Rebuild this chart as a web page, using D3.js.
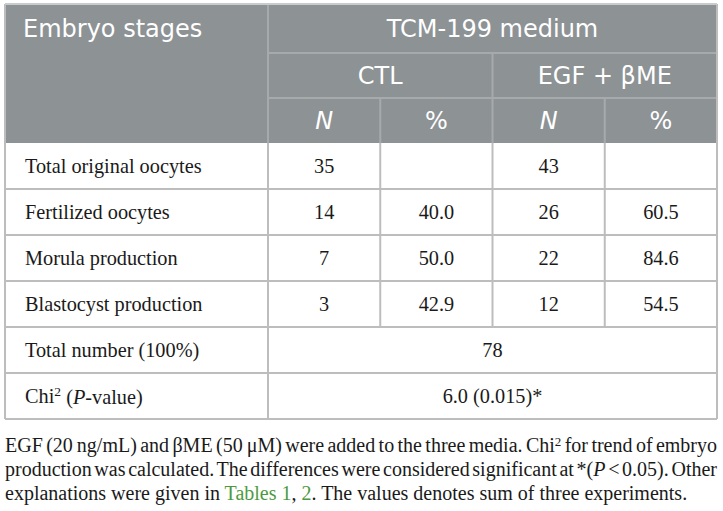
<!DOCTYPE html>
<html>
<head>
<meta charset="utf-8">
<script src="https://cdn.jsdelivr.net/npm/d3@7"></script>
<style>
  html, body { margin: 0; padding: 0; background: #fff; }
  svg { display: block; }
</style>
</head>
<body>
<svg id="chart" width="723" height="511"></svg>
<script>
// ---- data ----
const stages = ["Total original oocytes", "Fertilized oocytes", "Morula production", "Blastocyst production"];
const ctlN = ["35", "14", "7", "3"];
const ctlPct = ["", "40.0", "50.0", "42.9"];
const egfN = ["43", "26", "22", "12"];
const egfPct = ["", "60.5", "84.6", "54.5"];
const mediumLabel = "TCM-199 medium";
const groups = ["CTL", "EGF + βME"];
const subHeaders = ["N", "%"];
const stubHeader = "Embryo stages";
const totalLabel = "Total number (100%)";
const totalValue = "78";
const chiValue = "6.0 (0.015)*";

// ---- layout ----
const svg = d3.select("#chart");
const L = 5, R = 717, STUB = 268, TOP = 4, HEAD = 143, BOTTOM = 419;
const headRows = [TOP, 53, 98, HEAD];
const headerFont = "'DejaVu Sans', sans-serif";
const bodyFont = "'Liberation Serif', 'Times New Roman', serif";
const headFill = "#8d9295", headLine = "#a6aaad", bodyLine = "#bdbdbd";

const colKeys = ["ctlN", "ctlPct", "egfN", "egfPct"];
const x = d3.scaleBand().domain(colKeys).range([STUB, R]);
const xg = d3.scaleBand().domain(groups).range([STUB, R]);
const rowKeys = stages.concat([totalLabel, "chi"]);
const y = d3.scaleBand().domain(rowKeys).range([HEAD, BOTTOM]);

// header background
svg.append("rect").attr("x", L).attr("y", TOP).attr("width", R - L).attr("height", HEAD - TOP).attr("fill", headFill);

// header lines
const hl = svg.append("g").attr("stroke", headLine).attr("stroke-width", 2);
hl.append("line").attr("x1", STUB).attr("x2", STUB).attr("y1", TOP).attr("y2", HEAD);
[headRows[1], headRows[2]].forEach(v => hl.append("line").attr("x1", STUB).attr("x2", R).attr("y1", v).attr("y2", v));
hl.append("line").attr("x1", xg("EGF + βME")).attr("x2", xg("EGF + βME")).attr("y1", headRows[1]).attr("y2", HEAD);
["ctlPct", "egfPct"].forEach(k => hl.append("line").attr("x1", x(k)).attr("x2", x(k)).attr("y1", headRows[2]).attr("y2", HEAD));

// header text
const ht = svg.append("g").attr("fill", "#fff").attr("font-family", headerFont).attr("font-size", 24);
ht.append("text").attr("x", 23).attr("y", (headRows[0] + headRows[1]) / 2).attr("dy", "0.36em").text(stubHeader);
ht.append("text").attr("x", (STUB + R) / 2).attr("y", (headRows[0] + headRows[1]) / 2).attr("dy", "0.36em").attr("text-anchor", "middle").text(mediumLabel);
groups.forEach(g => ht.append("text").attr("x", xg(g) + xg.bandwidth() / 2).attr("y", (headRows[1] + headRows[2]) / 2).attr("dy", "0.36em").attr("text-anchor", "middle").text(g));
colKeys.forEach((k, i) => ht.append("text").attr("x", x(k) + x.bandwidth() / 2).attr("y", (headRows[2] + headRows[3]) / 2).attr("dy", "0.36em").attr("text-anchor", "middle")
  .attr("font-style", i % 2 === 0 ? "italic" : "normal").text(subHeaders[i % 2]));

// body grid
const bl = svg.append("g").attr("stroke", bodyLine).attr("stroke-width", 2).attr("fill", "none");
rowKeys.forEach(r => bl.append("line").attr("x1", L).attr("x2", R).attr("y1", y(r) + y.bandwidth()).attr("y2", y(r) + y.bandwidth()));
bl.append("line").attr("x1", L).attr("x2", L).attr("y1", TOP).attr("y2", BOTTOM);
bl.append("line").attr("x1", R).attr("x2", R).attr("y1", TOP).attr("y2", BOTTOM);
bl.append("line").attr("x1", L).attr("x2", R).attr("y1", TOP).attr("y2", TOP).attr("stroke", "#c9cccd");
bl.append("line").attr("x1", STUB).attr("x2", STUB).attr("y1", HEAD).attr("y2", BOTTOM);
const stageBottom = y(stages[stages.length - 1]) + y.bandwidth();
["ctlPct", "egfN", "egfPct"].forEach(k => bl.append("line").attr("x1", x(k)).attr("x2", x(k)).attr("y1", HEAD).attr("y2", stageBottom));

// body text
const bt = svg.append("g").attr("fill", "#1a1a1a").attr("font-family", bodyFont).attr("font-size", 20.3);
const series = { ctlN, ctlPct, egfN, egfPct };
stages.forEach((s, i) => {
  const cy = y(s) + y.bandwidth() / 2;
  bt.append("text").attr("x", 25).attr("y", cy).attr("dy", "0.36em").text(s);
  colKeys.forEach(k => bt.append("text").attr("x", x(k) + x.bandwidth() / 2).attr("y", cy).attr("dy", "0.36em").attr("text-anchor", "middle").text(series[k][i]));
});
{
  const cy = y(totalLabel) + y.bandwidth() / 2;
  bt.append("text").attr("x", 25).attr("y", cy).attr("dy", "0.36em").text(totalLabel);
  bt.append("text").attr("x", (STUB + R) / 2).attr("y", cy).attr("dy", "0.36em").attr("text-anchor", "middle").text(totalValue);
}
{
  const cy = y("chi") + y.bandwidth() / 2;
  const t = bt.append("text").attr("x", 25).attr("y", cy).attr("dy", "0.36em");
  t.append("tspan").text("Chi");
  t.append("tspan").attr("font-size", 13.5).attr("dy", "-0.55em").text("2");
  t.append("tspan").attr("dy", "0.38em").text(" (");
  t.append("tspan").attr("font-style", "italic").text("P");
  t.append("tspan").text("-value)");
  bt.append("text").attr("x", (STUB + R) / 2).attr("y", cy).attr("dy", "0.36em").attr("text-anchor", "middle").text(chiValue);
}

// caption (justified lines)
const captionLines = [
  [{ t: "EGF (20\u2009ng/mL) and βME (50\u2009μM) were added to the three media. Chi" }, { t: "2", sup: true }, { t: " for trend of embryo" }],
  [{ t: "production was calculated. The differences were considered significant at *(" }, { t: "P", it: true }, { t: " < 0.05). Other" }],
  [{ t: "explanations were given in " }, { t: "Tables 1", link: true }, { t: ", " }, { t: "2", link: true }, { t: ". The values denotes sum of three experiments." }]
];
const capBase = [452, 476, 500];
const cg = svg.append("g").attr("font-family", bodyFont).attr("font-size", 20).attr("fill", "#1a1a1a");
captionLines.forEach((segs, li) => {
  const t = cg.append("text").attr("x", L).attr("y", capBase[li]);
  segs.forEach(sg => {
    const sp = t.append("tspan").text(sg.t);
    if (sg.sup) { sp.attr("font-size", 13).attr("baseline-shift", "45%"); }
    if (sg.it) sp.attr("font-style", "italic");
    if (sg.link) sp.attr("fill", "#4d9a3e");
  });
  if (li < captionLines.length - 1) {
    const w = t.node().getComputedTextLength();
    const spaces = segs.map(s => (s.t.match(/ /g) || []).length).reduce((a, b) => a + b, 0);
    const extra = (R - L - w) / spaces;
    t.attr("word-spacing", extra);
  }
});
</script>
</body>
</html>
